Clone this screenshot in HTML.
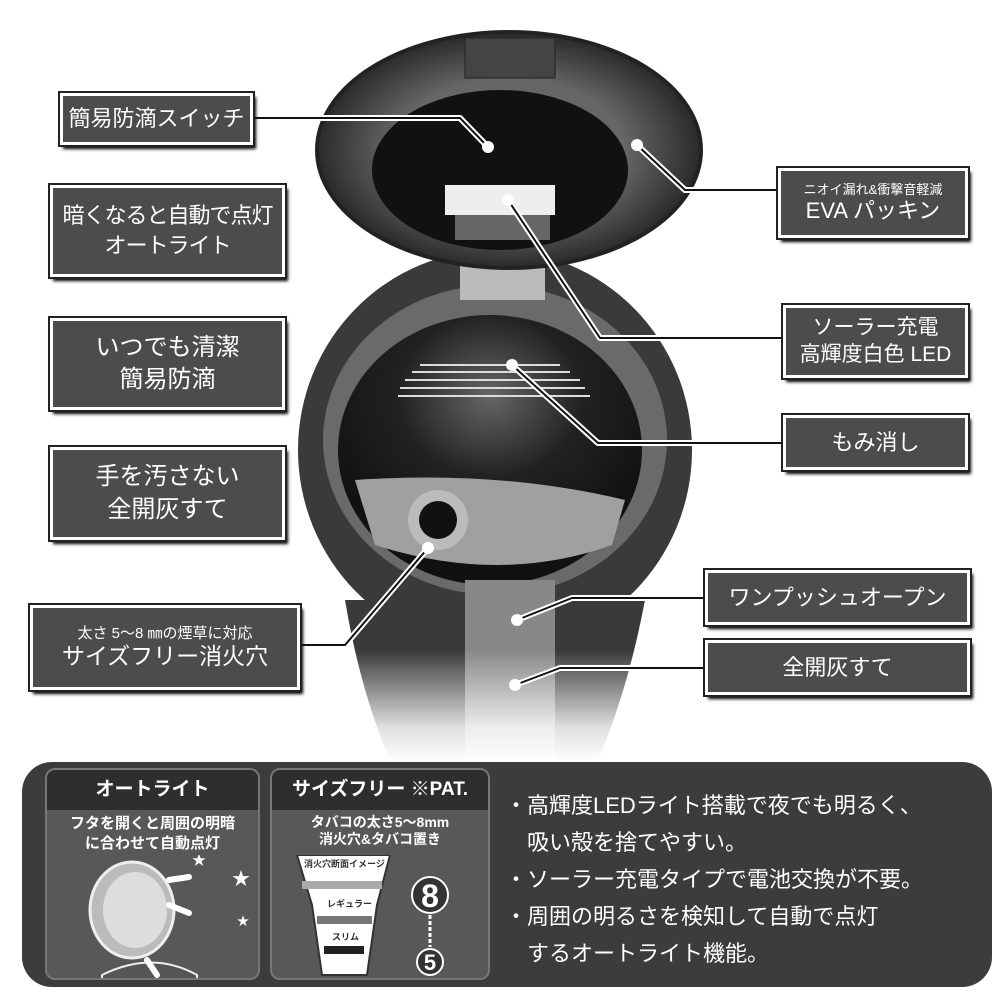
<!DOCTYPE html>
<html><head><meta charset="utf-8"><style>
body{margin:0;width:1000px;height:1000px;background:#fff;position:relative;overflow:hidden;font-family:"Liberation Sans","Noto Sans CJK JP",sans-serif}
.b{position:absolute;background:#4b4d4d;color:#fff;border:3px solid #fff;outline:2px solid #222;box-shadow:3px 4px 3px #000;display:flex;flex-direction:column;align-items:center;justify-content:center;text-align:center;line-height:1.35;box-sizing:border-box;white-space:nowrap}
.p{position:absolute;background:#585858;border-radius:10px;border:2px solid #777;box-sizing:border-box;overflow:hidden}
.h{background:#2e2e2e;color:#fff;font-weight:bold;font-size:19px;text-align:center;height:40px;line-height:40px}
.t{color:#fff;font-weight:bold;font-size:15px;text-align:center;line-height:20px;margin-top:4px}
</style></head><body>
<svg width="1000" height="1000" style="position:absolute;left:0;top:0">
<defs>
<linearGradient id="fade" x1="0" y1="0" x2="0" y2="1"><stop offset="0" stop-color="#fff" stop-opacity="0"/><stop offset="0.7" stop-color="#fff" stop-opacity="0.85"/><stop offset="1" stop-color="#fff"/></linearGradient>
<radialGradient id="lid" cx="0.5" cy="0.5" r="0.5"><stop offset="0.6" stop-color="#666"/><stop offset="1" stop-color="#2a2a2a"/></radialGradient>
<radialGradient id="bowl" cx="0.5" cy="0.3" r="0.6"><stop offset="0" stop-color="#666"/><stop offset="0.5" stop-color="#222"/><stop offset="1" stop-color="#111"/></radialGradient>
</defs>
<!-- lower body -->
<path d="M345 600 Q360 690 390 760 L598 760 Q628 690 645 600 Z" fill="#3a3a3a"/>
<!-- sphere -->
<ellipse cx="495" cy="450" rx="197" ry="200" fill="#3a3a3a"/>
<ellipse cx="495" cy="440" rx="172" ry="155" fill="#6a6a6a"/>
<ellipse cx="490" cy="450" rx="152" ry="135" fill="url(#bowl)"/>
<path d="M355 480 Q500 470 625 500 L612 545 Q500 585 375 545 Z" fill="#a0a0a0"/>
<circle cx="438" cy="520" r="30" fill="#bbb"/><circle cx="438" cy="520" r="19" fill="#111"/>
<rect x="465" y="580" width="90" height="180" fill="#888"/>
<g stroke="#ddd" stroke-width="2"><line x1="420" y1="365" x2="560" y2="365"/><line x1="412" y1="372" x2="570" y2="372"/><line x1="405" y1="380" x2="580" y2="380"/><line x1="400" y1="388" x2="585" y2="388"/><line x1="398" y1="396" x2="590" y2="396"/></g>
<rect x="300" y="650" width="400" height="112" fill="url(#fade)"/>
<rect x="460" y="240" width="85" height="60" fill="#bbb"/>
<!-- lid -->
<ellipse cx="509" cy="150" rx="192" ry="118" fill="url(#lid)" stroke="#222" stroke-width="4"/>
<ellipse cx="500" cy="170" rx="128" ry="80" fill="#111"/>
<rect x="445" y="185" width="110" height="30" fill="#eee"/>
<rect x="455" y="215" width="95" height="25" fill="#666"/>
<rect x="465" y="38" width="90" height="40" fill="#444" stroke="#222"/>
<!-- connectors -->
<g fill="none" stroke-linejoin="round">
<g stroke="#fff" stroke-width="6">
<polyline points="253,118 460,118 488,147"/><polyline points="637,145 685,190 778,190"/><polyline points="508,200 600,338 783,338"/><polyline points="512,365 598,443 783,443"/><polyline points="300,645 345,645 428,548"/><polyline points="517,620 572,598 705,598"/><polyline points="515,685 560,668 705,668"/></g>
<g stroke="#111" stroke-width="2">
<polyline points="253,118 460,118 488,147"/><polyline points="637,145 685,190 778,190"/><polyline points="508,200 600,338 783,338"/><polyline points="512,365 598,443 783,443"/><polyline points="300,645 345,645 428,548"/><polyline points="517,620 572,598 705,598"/><polyline points="515,685 560,668 705,668"/></g>
</g>
<g fill="#fff"><circle cx="488" cy="147" r="6"/><circle cx="637" cy="145" r="6"/><circle cx="508" cy="200" r="6"/><circle cx="512" cy="365" r="6"/><circle cx="428" cy="548" r="6"/><circle cx="517" cy="620" r="6"/><circle cx="515" cy="685" r="6"/></g>
<!-- bottom panel -->
<rect x="22" y="762" width="970" height="225" rx="30" fill="#3c3c3c"/>
</svg>
<div class="b" style="left:60px;top:93px;width:193px;height:52px;font-size:22px">簡易防滴スイッチ</div>
<div class="b" style="left:50px;top:185px;width:235px;height:92px;font-size:22px;letter-spacing:-1px">暗くなると自動で点灯<br>オートライト</div>
<div class="b" style="left:50px;top:318px;width:235px;height:92px;font-size:24px">いつでも清潔<br>簡易防滴</div>
<div class="b" style="left:50px;top:447px;width:235px;height:93px;font-size:24px">手を汚さない<br>全開灰すて</div>
<div class="b" style="left:30px;top:605px;width:270px;height:85px;font-size:23px;line-height:1.2"><span style="font-size:15px">太さ 5～8 ㎜の煙草に対応</span>サイズフリー消火穴</div>
<div class="b" style="left:778px;top:168px;width:190px;height:70px;font-size:22px;line-height:1.2"><span style="font-size:13px">ニオイ漏れ&amp;衝撃音軽減</span>EVA パッキン</div>
<div class="b" style="left:783px;top:305px;width:185px;height:73px;font-size:21px;line-height:1.25">ソーラー充電<br>高輝度白色 LED</div>
<div class="b" style="left:783px;top:415px;width:185px;height:55px;font-size:22px">もみ消し</div>
<div class="b" style="left:705px;top:570px;width:265px;height:55px;font-size:22px">ワンプッシュオープン</div>
<div class="b" style="left:705px;top:640px;width:265px;height:55px;font-size:22px">全開灰すて</div>
<div class="p" style="left:45px;top:768px;width:215px;height:212px"><div class="h">オートライト</div><div class="t">フタを開くと周囲の明暗<br>に合わせて自動点灯</div>
<svg width="215" height="130" style="position:absolute;left:0;top:85px"><ellipse cx="85" cy="55" rx="42" ry="48" fill="#bbb" stroke="#eee" stroke-width="3"/><ellipse cx="88" cy="55" rx="32" ry="38" fill="#ddd"/><path d="M55 120 Q105 95 150 120 L150 135 L55 135Z" fill="#555" stroke="#eee" stroke-width="2"/><g stroke="#fff" stroke-width="6" stroke-linecap="round"><line x1="122" y1="25" x2="142" y2="22"/><line x1="122" y1="50" x2="142" y2="58"/><line x1="100" y1="105" x2="110" y2="120"/></g><text x="145" y="10" fill="#fff" font-size="14">★</text><text x="185" y="30" fill="#fff" font-size="18">★</text><text x="190" y="70" fill="#fff" font-size="12">★</text></svg></div>
<div class="p" style="left:270px;top:768px;width:220px;height:212px"><div class="h">サイズフリー ※PAT.</div><div class="t" style="font-size:14px;line-height:17px">タバコの太さ5～8mm<br>消火穴&amp;タバコ置き</div>
<svg width="220" height="130" style="position:absolute;left:0;top:85px"><path d="M25 0 L118 0 L105 50 L95 120 L50 120 L40 50 Z" fill="#fff" stroke="#333" stroke-width="2"/><text x="32" y="12" font-size="9" font-weight="bold" fill="#333">消火穴断面イメージ</text><path d="M30 30 L110 30" stroke="#aaa" stroke-width="8"/><text x="55" y="52" font-size="9" font-weight="bold" fill="#333">レギュラー</text><path d="M45 65 L100 65" stroke="#777" stroke-width="8"/><text x="60" y="85" font-size="9" font-weight="bold" fill="#333">スリム</text><path d="M52 95 L92 95" stroke="#222" stroke-width="8"/><circle cx="158" cy="40" r="18" fill="#333" stroke="#fff" stroke-width="2"/><text x="158" y="52" font-size="32" font-weight="bold" fill="#fff" text-anchor="middle">8</text><circle cx="158" cy="107" r="13" fill="#333" stroke="#fff" stroke-width="2"/><text x="158" y="115" font-size="22" font-weight="bold" fill="#fff" text-anchor="middle">5</text><line x1="158" y1="60" x2="158" y2="92" stroke="#fff" stroke-width="3" stroke-dasharray="4 2"/></svg></div>
<div style="position:absolute;left:505px;top:787px;color:#fff;font-size:22px;line-height:37px;white-space:nowrap">・高輝度LEDライト搭載で夜でも明るく、<br>　吸い殻を捨てやすい。<br>・ソーラー充電タイプで電池交換が不要。<br>・周囲の明るさを検知して自動で点灯<br>　するオートライト機能。</div>
</body></html>
